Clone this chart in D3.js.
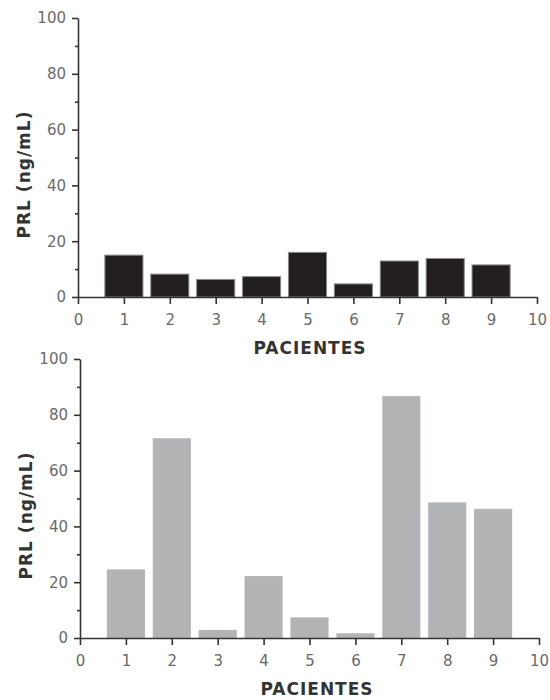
<!DOCTYPE html>
<html>
<head>
<meta charset="utf-8">
<script src="https://cdn.jsdelivr.net/npm/d3@7"></script>
<style>
  body { margin: 0; background: #fff; }
  .tick text { font-family: "DejaVu Sans", sans-serif; font-size: 15px; fill: #6a6a6a; }
  .axis path, .axis line { stroke: #333; stroke-width: 1.6px; }
  .lbl { font-family: "DejaVu Sans", sans-serif; font-weight: bold; font-size: 17px; fill: #333; letter-spacing: 1px; }
</style>
</head>
<body>
<div id="chart"></div>
<script>
// patient numbers and PRL values (ng/mL)
const patients = [1, 2, 3, 4, 5, 6, 7, 8, 9];
const prlTop = [15, 8.2, 6.3, 7.3, 16, 4.7, 12.9, 13.8, 11.5];
const prlBottom = [24.6, 71.6, 2.9, 22.2, 7.4, 1.7, 86.7, 48.6, 46.3];
const yTicks = [0, 20, 40, 60, 80, 100];
const yMinor = [10, 30, 50, 70, 90];
const xTicks = [0, 1, 2, 3, 4, 5, 6, 7, 8, 9, 10];

const width = 550;
const height = 700;

const svg = d3.select("#chart")
    .append("svg")
    .attr("width", width)
    .attr("height", height);

function drawPanel(values, box, color, stroke) {
    const x = d3.scaleLinear().domain([0, 10]).range([box.left, box.right]);
    const y = d3.scaleLinear().domain([0, 100]).range([box.bottom, box.top]);
    const barW = x(0.83) - x(0);

    // bars
    svg.append("g")
        .selectAll("rect")
        .data(patients)
        .enter()
        .append("rect")
        .attr("x", (d, i) => x(d) - barW / 2)
        .attr("y", (d, i) => y(values[i]))
        .attr("width", barW)
        .attr("height", (d, i) => y(0) - y(values[i]))
        .attr("fill", color)
        .attr("stroke", stroke)
        .attr("stroke-width", stroke === "none" ? 0 : 1);

    // y axis, major + minor ticks
    svg.append("g")
        .attr("class", "axis")
        .attr("transform", `translate(${box.left}, 0)`)
        .call(d3.axisLeft(y).tickValues(yTicks).tickSize(6).tickSizeOuter(0).tickPadding(6));
    const minor = svg.append("g")
        .attr("class", "axis")
        .attr("transform", `translate(${box.left}, 0)`)
        .call(d3.axisLeft(y).tickValues(yMinor).tickSize(3).tickFormat(""));
    minor.select(".domain").remove();

    // x axis
    svg.append("g")
        .attr("class", "axis")
        .attr("transform", `translate(0, ${box.bottom})`)
        .call(d3.axisBottom(x).tickValues(xTicks).tickSize(7).tickSizeOuter(0).tickPadding(10));

    // axis titles
    svg.append("text")
        .attr("class", "lbl")
        .attr("transform", `translate(${box.left - 48}, ${(box.top + box.bottom) / 2 + 17}) rotate(-90)`)
        .attr("text-anchor", "middle")
        .text("PRL (ng/mL)");

    svg.append("text")
        .attr("class", "lbl")
        .attr("x", box.titleX)
        .attr("y", box.titleY)
        .attr("text-anchor", "middle")
        .text("PACIENTES");
}

drawPanel(prlTop, { left: 78, right: 537, top: 18, bottom: 297, titleX: 310, titleY: 354 }, "#231f20", "#8a8a8a");
drawPanel(prlBottom, { left: 80, right: 539, top: 359, bottom: 638, titleX: 317, titleY: 695 }, "#b3b4b6", "none");
</script>
</body>
</html>
